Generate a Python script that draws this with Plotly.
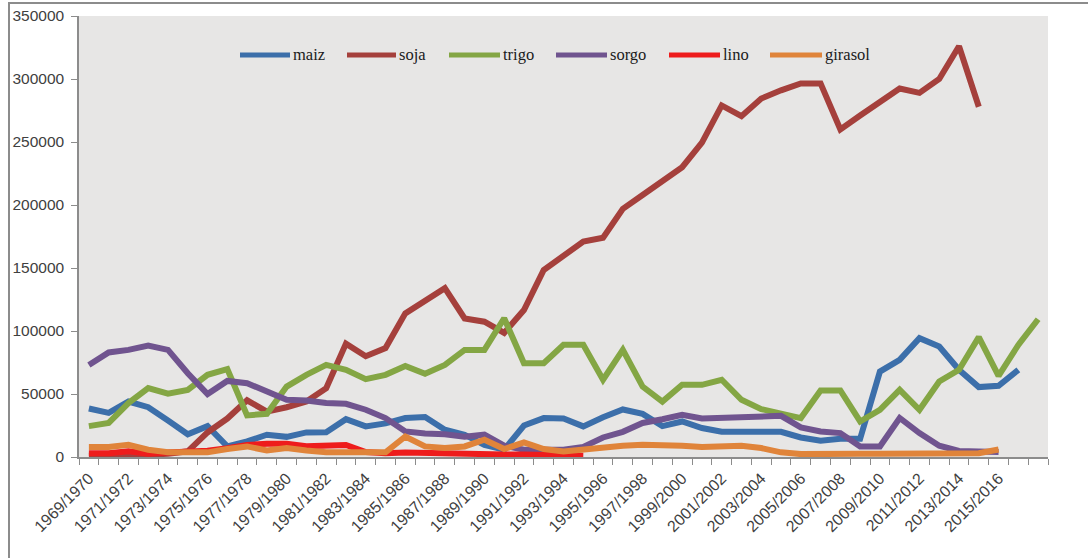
import plotly.graph_objects as go

# Crop seasons (category axis)
seasons = [f"{y}/{y + 1}" for y in range(1969, 2018)]

# Seasons that carry a visible label on the x axis
labelled_seasons = [
    "1969/1970", "1971/1972", "1973/1974", "1975/1976", "1977/1978",
    "1979/1980", "1981/1982", "1983/1984", "1985/1986", "1987/1988",
    "1989/1990", "1991/1992", "1993/1994", "1995/1996", "1997/1998",
    "1999/2000", "2001/2002", "2003/2004", "2005/2006", "2007/2008",
    "2009/2010", "2011/2012", "2013/2014", "2015/2016",
]

y_ticks = [0, 50000, 100000, 150000, 200000, 250000, 300000, 350000]

maiz = [38500, 35000, 44000, 39500, 29000, 18000, 24500, 8400, 12400, 17700,
        16000, 19500, 19700, 30000, 24300, 26700, 30900, 31700, 21600, 17700,
        9500, 5800, 25000, 30900, 30500, 24300, 31500, 37700, 34200, 24500,
        28200, 23000, 20000, 20000, 20000, 20000, 15500, 13000, 14500, 14500,
        67800, 77100, 94300, 87700, 69200, 55500, 56500, 69200]

soja = [1000, 1000, 1500, 2000, 2500, 4500, 19500, 30500, 45000, 36000,
        39500, 44000, 54500, 90000, 80000, 86500, 114000, 124600, 134000, 110000,
        107400, 98500, 116700, 148400, 160300, 171000, 174000, 197000, 208000, 219000,
        230000, 249500, 279000, 270500, 284500, 291000, 296500, 296500, 260000, 271000,
        282000, 292500, 289000, 300000, 326000, 278000]

trigo = [24500, 27000, 42800, 54700, 50200, 53300, 65200, 69700, 33000, 34300,
         55900, 65200, 73100, 69200, 61800, 65200, 72300, 66000, 73100, 85000,
         85000, 110100, 74500, 74500, 89000, 89000, 61300, 85000, 55900, 44000,
         57300, 57300, 61300, 45400, 38000, 34900, 30900, 52800, 52800, 28200,
         37500, 53300, 37500, 59900, 69200, 95100, 64400, 89000, 109300]

sorgo = [73000, 83000, 85000, 88500, 85000, 66500, 50000, 60400, 58600, 52000,
         45400, 44900, 42800, 42200, 37500, 30900, 20300, 18700, 18000, 16000,
         17700, 9000, 5800, 5800, 5800, 8000, 15500, 20000, 27000, 30000,
         33500, 30500, 31000, 32500, 32700, 32700, 23500, 20300, 19000, 8400,
         8400, 31000, 19000, 9000, 4800, 4800, 4000]

lino = [3000, 3000, 4500, 2500, 3500, 4000, 5000, 7000, 9500, 10500,
        10500, 8500, 8500, 9500, 4000, 3000, 3500, 3000, 3000, 2500,
        2500, 2000, 2000, 1500, 1500, 1000]

girasol = [7900, 7900, 9700, 5800, 3700, 3700, 3700, 6300, 8400, 5200,
           7100, 5200, 3700, 3700, 3200, 3700, 16300, 8400, 7100, 8400,
           13700, 6300, 11600, 6300, 4400, 6300, 7900, 9000, 9700, 9700,
           9000, 7900, 7900, 9000, 7100, 3700, 2300, 2000, 2500, 2500,
           2500, 2500, 2500, 2500, 2500, 3000, 6000]

series = [
    ("maiz", maiz, "#3C6FAA"),
    ("soja", soja, "#A5403C"),
    ("trigo", trigo, "#84A644"),
    ("sorgo", sorgo, "#70548F"),
    ("lino", lino, "#EE1C1C"),
    ("girasol", girasol, "#E0843A"),
]

fig = go.Figure()
for name, values, color in series:
    fig.add_trace(go.Scatter(
        x=seasons[:len(values)], y=values, name=name, mode="lines",
        line=dict(color=color, width=6, shape="linear"),
        showlegend=False, hoverinfo="x+y+name",
    ))

# Plot-area geometry in pixels (used for legend and frame placement)
W, H = 1088, 558
L, R, T, B = 79, 1048, 16, 457


def px_x(px):
    return (px - L) / (R - L)


def px_y(py):
    return (B - py) / (B - T)


shapes = []
annotations = []

# Legend drawn across the top of the plot area
legend_row_y = 55
legend_pos = [(240, 290), (347, 396), (449, 500), (556, 607), (669, 720), (770, 822)]
for (name, _, color), (x0, x1) in zip(series, legend_pos):
    shapes.append(dict(type="line", xref="paper", yref="paper",
                       x0=px_x(x0), x1=px_x(x1), y0=px_y(legend_row_y), y1=px_y(legend_row_y),
                       line=dict(color=color, width=5), layer="above"))
    annotations.append(dict(xref="paper", yref="paper", x=px_x(x1 + 1), y=px_y(legend_row_y),
                            text=name, showarrow=False, xanchor="left", yanchor="middle",
                            font=dict(family="Liberation Serif", size=16.5, color="#1a1a1a")))

# Outer chart frame
shapes.append(dict(type="rect", xref="paper", yref="paper",
                   x0=px_x(9), x1=px_x(W + 20), y0=px_y(H + 20), y1=px_y(3),
                   line=dict(color="#8C8C8C", width=2), fillcolor="rgba(0,0,0,0)", layer="below"))

ticktext = [s if s in labelled_seasons else "" for s in seasons]

fig.update_layout(
    width=W, height=H,
    margin=dict(l=L, r=W - R, t=T, b=H - B, autoexpand=False),
    paper_bgcolor="white",
    plot_bgcolor="#E7E6E5",
    shapes=shapes,
    annotations=annotations,
    font=dict(family="Liberation Sans", color="#404040"),
    xaxis=dict(
        type="category", categoryorder="array", categoryarray=seasons,
        range=[-0.5, len(seasons) - 0.5],
        tickmode="array", tickvals=seasons, ticktext=ticktext,
        tickson="boundaries", ticks="outside", ticklen=6, tickcolor="#8C8C8C",
        tickangle=-45, tickfont=dict(size=16, color="#404040"),
        ticklabelstandoff=4,
        showline=True, linecolor="#8C8C8C", linewidth=1.5,
        showgrid=False, zeroline=False,
    ),
    yaxis=dict(
        range=[0, 350000], tickmode="array", tickvals=y_ticks,
        ticktext=[str(v) for v in y_ticks],
        ticks="outside", ticklen=6, tickcolor="#8C8C8C",
        tickfont=dict(size=15.5, color="#404040"),
        ticklabelstandoff=4,
        showline=True, linecolor="#8C8C8C", linewidth=1.5,
        showgrid=False, zeroline=False,
    ),
)

fig.write_html("out.html")
